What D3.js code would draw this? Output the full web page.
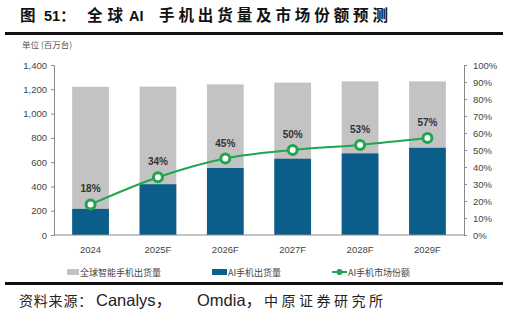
<!DOCTYPE html>
<html lang="zh">
<head>
<meta charset="UTF-8">
<title>全球AI手机出货量及市场份额预测</title>
<script src="https://d3js.org/d3.v7.min.js"></script>
<style>
  body { margin: 0; background: #fff; }
  svg text { font-family: "Liberation Sans", "Noto Sans CJK SC", sans-serif; }
  .cjk { font-family: "Noto Sans CJK SC", sans-serif !important; }
  .lat { font-family: "Liberation Sans", "Noto Sans CJK SC", sans-serif !important; }
</style>
</head>
<body>
<svg id="main" width="511" height="317"></svg>
<script>
  // data
  let years = ['2024', '2025F', '2026F', '2027F', '2028F', '2029F'];
  let totalShip = [1220, 1222, 1240, 1255, 1265, 1265];
  let aiShip = [215, 418, 552, 628, 672, 718];
  let aiShare = [18, 34, 45, 50, 53, 57];
  let leftTicks = [0, 200, 400, 600, 800, 1000, 1200, 1400];
  let rightTicks = [0, 10, 20, 30, 40, 50, 60, 70, 80, 90, 100];

  let svg = d3.select('#main');
  let plot = {left: 54, right: 464, top: 65, bottom: 235};
  let gray = '#c3c3c3', blue = '#0b5e89', green = '#21a54f';

  // title: pieces placed so the wide CJK spacing matches
  let title = svg.append('text').attr('y', 21).attr('font-weight', 'bold').attr('fill', '#111');
  title.append('tspan').attr('class', 'cjk').attr('x', 20).attr('font-size', 15.5).text('图');
  title.append('tspan').attr('class', 'lat').attr('x', 44).attr('font-size', 14.5).text('51：');
  title.append('tspan').attr('class', 'cjk').attr('x', 87).attr('font-size', 15.5)
    .attr('textLength', 36).attr('lengthAdjust', 'spacing').text('全球');
  title.append('tspan').attr('class', 'lat').attr('x', 129).attr('font-size', 14.5).text('AI');
  title.append('tspan').attr('class', 'cjk').attr('x', 159).attr('font-size', 15.5)
    .attr('textLength', 229).attr('lengthAdjust', 'spacing').text('手机出货量及市场份额预测');

  svg.append('rect').attr('x', 5).attr('y', 32).attr('width', 498).attr('height', 3).attr('fill', '#111');
  svg.append('rect').attr('x', 5).attr('y', 282).attr('width', 498).attr('height', 3).attr('fill', '#111');

  let src = svg.append('text').attr('y', 306).attr('fill', '#222');
  src.append('tspan').attr('class', 'cjk').attr('x', 19).attr('font-size', 14)
    .attr('letter-spacing', 0.8).text('资料来源：');
  src.append('tspan').attr('class', 'lat').attr('x', 96).attr('font-size', 16.5).text('Canalys，');
  src.append('tspan').attr('class', 'lat').attr('x', 197).attr('font-size', 16.5).text('Omdia，');
  src.append('tspan').attr('class', 'cjk').attr('x', 264).attr('font-size', 14)
    .attr('textLength', 119).attr('lengthAdjust', 'spacing').text('中原证券研究所');

  svg.append('text').attr('class', 'cjk').attr('x', 22).attr('y', 48)
    .attr('font-size', 8.5).attr('fill', '#555').text('单位 (百万台)');

  let x = d3.scaleBand().domain(years).range([plot.left, plot.right]).paddingInner(0.455).paddingOuter(0.27);
  let y = d3.scaleLinear().domain([0, 1400]).range([plot.bottom, plot.top]);
  let y2 = d3.scaleLinear().domain([0, 100]).range([plot.bottom, plot.top]);

  // bars
  svg.append('g').selectAll('rect').data(years).join('rect')
    .attr('x', d => x(d)).attr('width', x.bandwidth())
    .attr('y', (d, i) => y(totalShip[i])).attr('height', (d, i) => y(0) - y(totalShip[i]))
    .attr('fill', gray);
  svg.append('g').selectAll('rect').data(years).join('rect')
    .attr('x', d => x(d)).attr('width', x.bandwidth())
    .attr('y', (d, i) => y(aiShip[i])).attr('height', (d, i) => y(0) - y(aiShip[i]))
    .attr('fill', blue);

  // axes
  let axL = svg.append('g').attr('transform', `translate(${plot.left},0)`)
    .call(d3.axisLeft(y).tickValues(leftTicks).tickFormat(d3.format(',')).tickSize(3).tickPadding(4));
  let axR = svg.append('g').attr('transform', `translate(${plot.right},0)`)
    .call(d3.axisRight(y2).tickValues(rightTicks).tickFormat(d => d + '%').tickSize(3).tickPadding(6));
  let axB = svg.append('g').attr('transform', `translate(0,${plot.bottom})`)
    .call(d3.axisBottom(x).tickSize(0).tickPadding(11));
  [axL, axR, axB].forEach(a => {
    a.select('.domain').attr('stroke', '#8a8a8a');
    a.selectAll('.tick line').attr('stroke', '#8a8a8a');
    a.selectAll('text').attr('font-size', 9.5).attr('fill', '#444');
  });
  axB.select('.domain').attr('d', `M${plot.left},0H${plot.right}`);

  // share line
  let line = d3.line().x((d, i) => x(years[i]) + x.bandwidth() / 2).y(d => y2(d)).curve(d3.curveMonotoneX);
  svg.append('path').datum(aiShare).attr('d', line)
    .attr('fill', 'none').attr('stroke', green).attr('stroke-width', 2);
  svg.append('g').selectAll('circle').data(aiShare).join('circle')
    .attr('cx', (d, i) => x(years[i]) + x.bandwidth() / 2).attr('cy', d => y2(d))
    .attr('r', 4.5).attr('fill', '#fff').attr('stroke', green).attr('stroke-width', 3);
  svg.append('g').selectAll('text').data(aiShare).join('text')
    .attr('x', (d, i) => x(years[i]) + x.bandwidth() / 2).attr('y', d => y2(d) - 12)
    .attr('text-anchor', 'middle').attr('font-size', 10).attr('font-weight', 'bold').attr('fill', '#333')
    .text(d => d + '%');

  // legend
  let lg = svg.append('g').attr('font-size', 9).attr('fill', '#444');
  lg.append('rect').attr('x', 67).attr('y', 269).attr('width', 12).attr('height', 6).attr('fill', gray);
  lg.append('text').attr('class', 'cjk').attr('x', 80).attr('y', 276).text('全球智能手机出货量');
  lg.append('rect').attr('x', 212).attr('y', 269).attr('width', 15).attr('height', 6).attr('fill', blue);
  lg.append('text').attr('class', 'cjk').attr('x', 228).attr('y', 276).text('AI手机出货量');
  lg.append('line').attr('x1', 332).attr('x2', 347).attr('y1', 272).attr('y2', 272).attr('stroke', green).attr('stroke-width', 2);
  lg.append('circle').attr('cx', 339.5).attr('cy', 272).attr('r', 3).attr('fill', green);
  lg.append('text').attr('class', 'cjk').attr('x', 348).attr('y', 276).text('AI手机市场份额');
</script>
</body>
</html>
